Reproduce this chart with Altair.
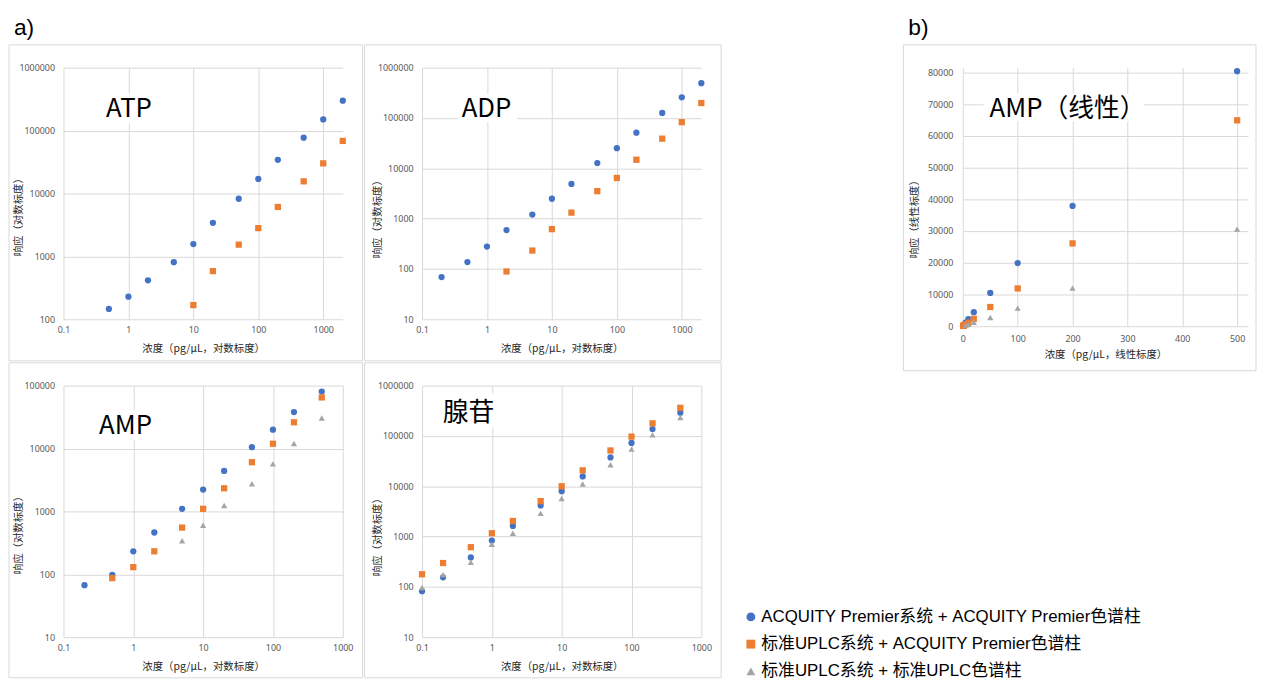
import altair as alt
import pandas as pd

# ---------------- data ----------------
SERIES = ["ACQUITY Premier系统 + ACQUITY Premier色谱柱",
          "标准UPLC系统 + ACQUITY Premier色谱柱",
          "标准UPLC系统 + 标准UPLC色谱柱"]
COLORS = ["#4472C4", "#ED7D31", "#A5A5A5"]
SHAPES = ["circle", "square", "triangle-up"]

PANEL_TITLES = ["ATP", "ADP", "AMP", "腺苷", "AMP（线性）"]
PART_LABELS = ["a)", "b)"]

LOG_X_TITLE = "浓度（pg/μL，对数标度）"
LOG_Y_TITLE = "响应（对数标度）"
LIN_X_TITLE = "浓度（pg/μL，线性标度）"
LIN_Y_TITLE = "响应（线性标度）"

# ATP
ATP_X_1 = [0.5, 1, 2, 5, 10, 20, 50, 100, 200, 500, 1000, 2000]
ATP_Y_1 = [146, 228, 416, 809, 1570, 3410, 8240, 17000, 34300, 77000, 150000, 298000]
ATP_X_2 = [10, 20, 50, 100, 200, 500, 1000, 2000]
ATP_Y_2 = [168, 583, 1535, 2810, 6100, 15600, 30100, 68400]

# ADP
ADP_X_1 = [0.2, 0.5, 1, 2, 5, 10, 20, 50, 100, 200, 500, 1000, 2000]
ADP_Y_1 = [69, 137, 278, 592, 1203, 2483, 4900, 12700, 25100, 51000, 126000, 257000, 492000]
ADP_X_2 = [2, 5, 10, 20, 50, 100, 200, 500, 1000, 2000]
ADP_Y_2 = [89, 232, 618, 1315, 3510, 6430, 14800, 38800, 82600, 198600]

# AMP
AMP_X_1 = [0.2, 0.5, 1, 2, 5, 10, 20, 50, 100, 200, 500]
AMP_Y_1 = [67, 98, 232, 462, 1101, 2220, 4400, 10500, 19900, 37900, 80400]
AMP_X_2 = [0.5, 1, 2, 5, 10, 20, 50, 100, 200, 500]
AMP_Y_2 = [87, 130, 232, 553, 1101, 2330, 6050, 11900, 26100, 64900]
AMP_X_3 = [5, 10, 20, 50, 100, 200, 500]
AMP_Y_3 = [341, 603, 1242, 2750, 5700, 12000, 30600]

# Adenosine (腺苷)
ADO_X = [0.1, 0.2, 0.5, 1, 2, 5, 10, 20, 50, 100, 200, 500]
ADO_Y_1 = [82, 155, 385, 834, 1625, 4150, 7960, 15700, 37300, 72700, 137000, 289000]
ADO_Y_2 = [178, 298, 615, 1164, 2040, 5060, 10000, 20700, 51400, 97000, 178000, 362000]
ADO_Y_3 = [97, 175, 307, 706, 1164, 2890, 5720, 11100, 26800, 54600, 105000, 233000]

# axis tick values
LOG_X_TICKS = [0.1, 1, 10, 100, 1000]
Y_TICKS_ATP = [100, 1000, 10000, 100000, 1000000]
Y_TICKS_6 = [10, 100, 1000, 10000, 100000, 1000000]
Y_TICKS_AMP = [10, 100, 1000, 10000, 100000]
LIN_X_TICKS = [0, 100, 200, 300, 400, 500]
LIN_Y_TICKS = [0, 10000, 20000, 30000, 40000, 50000, 60000, 70000, 80000]

# ---------------- helpers ----------------
FONT = "Noto Sans CJK SC"
GRID = "#D9D9D9"


def make_df(groups):
    rows = []
    for s, xs, ys in groups:
        for x, y in zip(xs, ys):
            rows.append({"conc": x, "resp": y, "series": s})
    return pd.DataFrame(rows)


ONE = pd.DataFrame({"k": [0]})

LEGEND = alt.Legend(
    orient="none", legendX=685.5, legendY=546, title=None,
    labelFont="Liberation Sans, Noto Sans CJK SC", labelFontSize=17,
    labelColor="#000000", labelLimit=0,
    labelOffset=2, symbolSize=80, symbolStrokeWidth=0, rowPadding=9.5,
    padding=0, symbolOpacity=1,
)


def panel(df, w, h, xscale, yscale, xvals, yvals, xfmt, yfmt, xtitle, ytitle,
          title, tx, ty, box, frame, ytx, yty, xlabpad, ylabpad, xty,
          top=False, part=None, part_xy=(0, 0)):
    fl, fr, ft, fb = frame
    color = alt.Color("series:N", scale=alt.Scale(domain=SERIES, range=COLORS),
                      legend=LEGEND, title=None)
    shape = alt.Shape("series:N", scale=alt.Scale(domain=SERIES, range=SHAPES),
                      legend=LEGEND, title=None)
    pts = alt.Chart(df).mark_point(filled=True, size=40, opacity=1).encode(
        x=alt.X("conc:Q", scale=xscale,
                axis=alt.Axis(values=xvals, format=xfmt, title=xtitle,
                              labelPadding=xlabpad, titleY=xty,
                              titleBaseline="middle", labelFlush=False,
                              labelOverlap=False)),
        y=alt.Y("resp:Q", scale=yscale,
                axis=alt.Axis(values=yvals, format=yfmt, title=ytitle,
                              labelPadding=ylabpad, titleX=ytx, titleY=yty,
                              titleBaseline="bottom", labelOverlap=False)),
        color=color, shape=shape,
    )
    frame_rect = alt.Chart(ONE).mark_rect(fillOpacity=0, stroke=GRID, strokeWidth=1).encode(
        x=alt.value(fl), x2=alt.value(w + fr), y=alt.value(ft), y2=alt.value(h + fb))
    bx0, bx1, by0, by1 = box
    title_box = alt.Chart(ONE).mark_rect(color="white").encode(
        x=alt.value(bx0), x2=alt.value(bx1), y=alt.value(by0), y2=alt.value(by1))
    title_txt = alt.Chart(ONE).mark_text(
        text=title, align="left", baseline="alphabetic", font=FONT,
        fontSize=26, color="#000000").encode(x=alt.value(tx), y=alt.value(ty))
    layers = [frame_rect]
    if top:
        ext = alt.Chart(ONE).mark_rect(fillOpacity=0, strokeOpacity=0).encode(
            x=alt.value(fl), x2=alt.value(w + fr), y=alt.value(-56), y2=alt.value(ft))
        layers.append(ext)
    if part:
        layers.append(alt.Chart(ONE).mark_text(
            text=part, align="left", baseline="alphabetic", font="Liberation Sans",
            fontSize=23, color="#000000").encode(
            x=alt.value(part_xy[0]), y=alt.value(part_xy[1])))
    layers += [title_box, title_txt, pts]
    return alt.layer(*layers).properties(width=w, height=h)


W, H = 282, 254

df_atp = make_df([(SERIES[0], ATP_X_1, ATP_Y_1), (SERIES[1], ATP_X_2, ATP_Y_2)])
df_adp = make_df([(SERIES[0], ADP_X_1, ADP_Y_1), (SERIES[1], ADP_X_2, ADP_Y_2)])
df_amp = make_df([(SERIES[0], AMP_X_1, AMP_Y_1), (SERIES[1], AMP_X_2, AMP_Y_2),
                  (SERIES[2], AMP_X_3, AMP_Y_3)])
df_ado = make_df([(SERIES[0], ADO_X, ADO_Y_1), (SERIES[1], ADO_X, ADO_Y_2),
                  (SERIES[2], ADO_X, ADO_Y_3)])


def logsc(lo, hi):
    return alt.Scale(type="log", domain=[lo, hi], nice=False)


atp = panel(df_atp, W, H, logsc(0.1, 2000), logsc(100, 1000000), LOG_X_TICKS, Y_TICKS_ATP,
            "~f", "~f", LOG_X_TITLE, LOG_Y_TITLE, PANEL_TITLES[0], 43, 50,
            (35, 97, 26, 56), (-55, 20, -23, 42), -40, 148, 6, 9, 29.5,
            top=True, part=PART_LABELS[0], part_xy=(-50, -33))
adp = panel(df_adp, W, H, logsc(0.1, 2000), logsc(10, 1000000), LOG_X_TICKS, Y_TICKS_6,
            "~f", "~f", LOG_X_TITLE, LOG_Y_TITLE, PANEL_TITLES[1], 40, 50,
            (36, 96, 26, 55), (-58, 20, -23, 42), -40, 150, 6, 9, 29.5, top=True)
amp = panel(df_amp, W, H, logsc(0.1, 1000), logsc(10, 100000), LOG_X_TICKS, Y_TICKS_AMP,
            "~f", "~f", LOG_X_TITLE, LOG_Y_TITLE, PANEL_TITLES[2], 36, 49,
            (28, 100, 25, 55), (-55, 20, -23, 41), -40, 148, 6, 9, 29.5)
ado = panel(df_ado, W, H, logsc(0.1, 1000), logsc(10, 1000000), LOG_X_TICKS, Y_TICKS_6,
            "~f", "~f", LOG_X_TITLE, LOG_Y_TITLE, PANEL_TITLES[3], 21, 36,
            (13, 80, 8, 42), (-58, 20, -23, 41), -40, 150, 6, 9, 29.5)

lin = panel(df_amp, 288, 261,
            alt.Scale(domain=[0, 520], nice=False), alt.Scale(domain=[0, 81500], nice=False),
            LIN_X_TICKS, LIN_Y_TICKS, "d", "d", LIN_X_TITLE, LIN_Y_TITLE,
            PANEL_TITLES[4], 27, 50, (21, 183, 26, 54), (-60, 8, -23, 45),
            -44, 150, 8, 10, 29, top=True, part=PART_LABELS[1], part_xy=(-55, -33))

left = alt.vconcat(
    alt.hconcat(atp, adp, spacing=0),
    alt.hconcat(amp, ado, spacing=0),
    spacing=0,
)

chart = alt.hconcat(left, lin, spacing=182).resolve_scale(
    color="shared", shape="shared"
).properties(padding=0, background="white").configure_view(
    stroke="transparent"
).configure_axis(
    grid=True, gridColor=GRID, gridWidth=1, domain=False, ticks=False, tickSize=0,
    labelColor="#595959", labelFont="Noto Sans", labelFontSize=9,
    titleFont=FONT, titleFontSize=10.5, titleFontWeight="normal", titleColor="#262626",
)

chart.save("out.html", embed_options={"renderer": "svg", "actions": False})
